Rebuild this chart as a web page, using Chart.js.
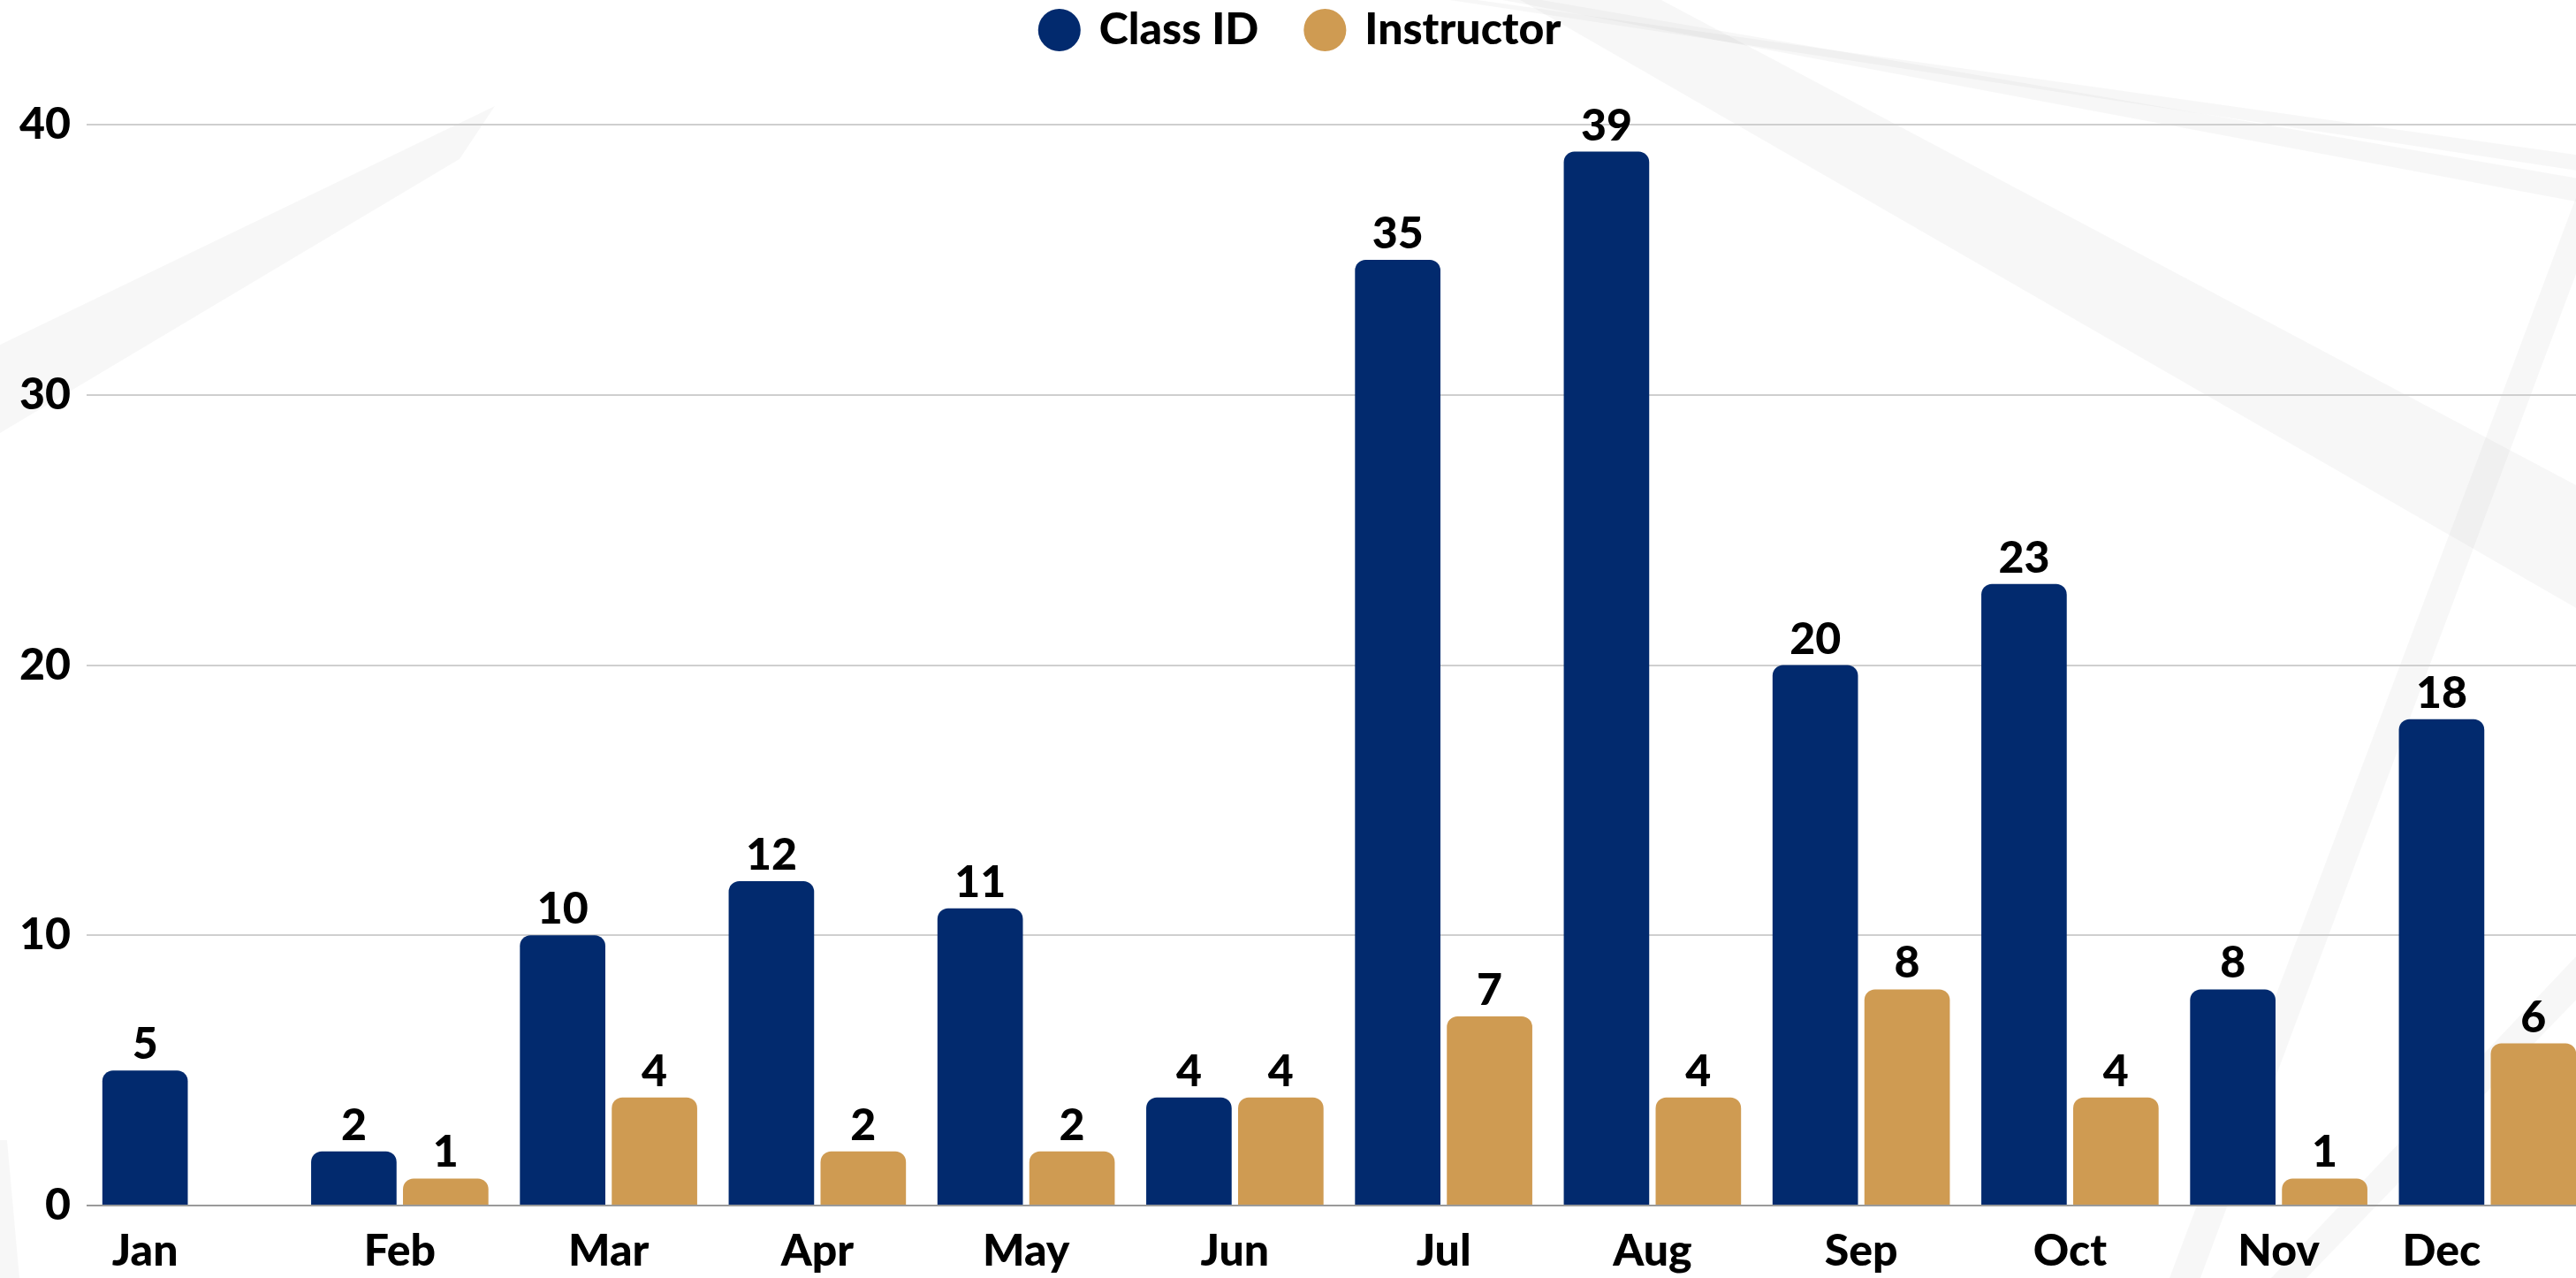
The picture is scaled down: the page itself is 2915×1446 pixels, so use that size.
<!DOCTYPE html>
<html>
<head>
<meta charset="utf-8">
<script src="https://cdn.jsdelivr.net/npm/chart.js@4.4.1/dist/chart.umd.min.js"></script>
<style>
  html, body { margin: 0; padding: 0; background: #fff; overflow: hidden; }
  #wrap { width: 2936px; height: 1446px; position: relative; }
</style>
</head>
<body>
<div id="wrap"><canvas id="myChart"></canvas></div>
<script>
var months = ['Jan', 'Feb', 'Mar', 'Apr', 'May', 'Jun', 'Jul', 'Aug', 'Sep', 'Oct', 'Nov', 'Dec'];
var classId = [5, 2, 10, 12, 11, 4, 35, 39, 20, 23, 8, 18];
var instructor = [null, 1, 4, 2, 2, 4, 7, 4, 8, 4, 1, 6];
var yMin = 0, yMax = 40, yStep = 10;

var NAVY = '#022a6e';
var GOLD = '#cf9b52';
var FONT = 'Lato';

// faint diagonal bands in the background
var bands = {
  id: 'bands',
  beforeDraw: function(chart) {
    var ctx = chart.ctx;
    var polys = [
      [[1640, 0], [1672, 0], [2936, 178], [2936, 196]],
      [[1700, 0], [1745, 0], [2936, 205], [2936, 232]],
      [[1720, 0], [1880, 0], [2936, 560], [2936, 700]],
      [[2920, 210], [2945, 230], [2490, 1446], [2455, 1446]],
      [[2936, 1060], [2936, 1110], [2610, 1446], [2570, 1446]],
      [[0, 390], [0, 490], [520, 180], [560, 120]],
      [[0, 1290], [8, 1290], [22, 1446], [0, 1446]]
    ];
    ctx.save();
    ctx.fillStyle = 'rgba(0,0,0,0.03)';
    polys.forEach(function(p) {
      ctx.beginPath();
      ctx.moveTo(p[0][0], p[0][1]);
      for (var i = 1; i < p.length; i++) ctx.lineTo(p[i][0], p[i][1]);
      ctx.closePath();
      ctx.fill();
    });
    ctx.restore();
  }
};

// move the legend a bit and leave room under it
var legendPlace = {
  id: 'legendPlace',
  beforeInit: function(chart) {
    var fit = chart.legend.fit;
    chart.legend.fit = function() {
      fit.call(this);
      this.height += 26;
    };
  },
  afterLayout: function(chart) {
    var lg = chart.legend;
    lg.top -= 46; lg.bottom -= 46;
    lg.left += 4; lg.right += 4;
  }
};

// numbers on top of the bars
var valueLabels = {
  id: 'valueLabels',
  afterDatasetsDraw: function(chart) {
    var ctx = chart.ctx;
    ctx.save();
    ctx.font = '900 50px ' + FONT;
    ctx.fillStyle = '#000';
    ctx.textAlign = 'center';
    ctx.textBaseline = 'alphabetic';
    chart.data.datasets.forEach(function(ds, i) {
      chart.getDatasetMeta(i).data.forEach(function(bar, j) {
        if (ds.data[j] === null) return;
        ctx.fillText(ds.data[j], bar.x, bar.y - 13);
      });
    });
    ctx.restore();
  }
};

// month names; first and last sit under the navy bar
var xLabels = {
  id: 'xLabels',
  afterDraw: function(chart) {
    var ctx = chart.ctx;
    var xs = chart.scales.x;
    var meta = chart.getDatasetMeta(0);
    ctx.save();
    ctx.font = '900 50px ' + FONT;
    ctx.fillStyle = '#000';
    ctx.textAlign = 'center';
    ctx.textBaseline = 'alphabetic';
    months.forEach(function(m, i) {
      var x = xs.getPixelForTick(i);
      if (i === 0 || i === months.length - 1) x = meta.data[i].x;
      ctx.fillText(m, x, chart.chartArea.bottom + 68);
    });
    ctx.restore();
  }
};

var ctx = document.getElementById('myChart').getContext('2d');
var chart = new Chart(ctx, {
  type: 'bar',
  data: {
    labels: months,
    datasets: [{
      label: 'Class ID',
      data: classId,
      backgroundColor: NAVY,
      borderRadius: 12,
      borderSkipped: 'start',
      categoryPercentage: 0.88,
      barPercentage: 0.93
    }, {
      label: 'Instructor',
      data: instructor,
      backgroundColor: GOLD,
      borderRadius: 12,
      borderSkipped: 'start',
      categoryPercentage: 0.88,
      barPercentage: 0.93
    }]
  },
  options: {
    responsive: true,
    maintainAspectRatio: false,
    animation: false,
    layout: { padding: { left: 4, right: 3, top: 0, bottom: 74 } },
    plugins: {
      legend: {
        position: 'top',
        labels: {
          usePointStyle: true,
          pointStyle: 'circle',
          boxHeight: 34,
          padding: 55,
          color: '#000',
          font: { family: FONT, size: 50, weight: '900' }
        }
      },
      tooltip: { enabled: false }
    },
    scales: {
      x: {
        grid: { display: false },
        border: { display: false },
        ticks: { display: false }
      },
      y: {
        min: yMin,
        max: yMax,
        ticks: {
          stepSize: yStep,
          padding: 18,
          color: '#000',
          font: { family: FONT, size: 50, weight: '900' }
        },
        grid: {
          drawTicks: false,
          lineWidth: 2,
          color: function(c) { return c.tick && c.tick.value === 0 ? '#9a9a9a' : '#cfcfcf'; }
        },
        border: { display: false }
      }
    }
  },
  plugins: [bands, legendPlace, valueLabels, xLabels]
});
</script>
</body>
</html>
